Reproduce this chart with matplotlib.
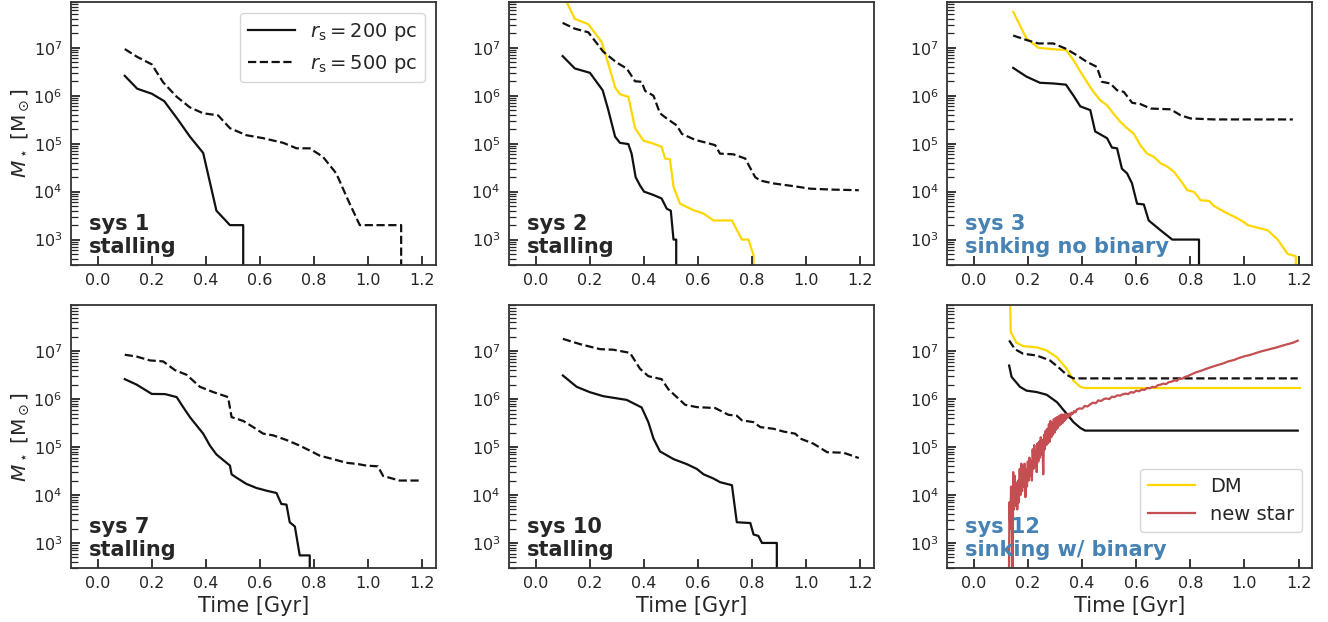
import matplotlib
matplotlib.use("Agg")
import matplotlib.pyplot as plt
from matplotlib.ticker import LogLocator, NullFormatter, MultipleLocator

plt.rcParams['font.family'] = ['DejaVu Sans']
plt.rcParams['mathtext.fontset'] = 'dejavusans'

TXT = '#262626'
GOLD = '#FFD700'
RED = '#C44E52'
BLUE = '#4682B4'

# ---------------- data ----------------
# sys 1
s1_t200 = [0.10, 0.146, 0.20, 0.246, 0.298, 0.341, 0.39, 0.439, 0.489, 0.538, 0.538]
s1_m200 = [2.6e6, 1.4e6, 1.1e6, 7.7e5, 3.1e5, 1.4e5, 6.4e4, 4e3, 2e3, 2e3, 1e1]
s1_t500 = [0.10, 0.145, 0.20, 0.242, 0.292, 0.341, 0.39, 0.445, 0.489, 0.55, 0.612,
           0.686, 0.735, 0.784, 0.833, 0.882, 0.926, 0.969, 1.122, 1.122]
s1_m500 = [9.4e6, 6.5e6, 4.5e6, 1.9e6, 9.5e5, 5.7e5, 4.3e5, 3.9e5, 2.1e5, 1.5e5, 1.3e5,
           1.04e5, 8e4, 8e4, 5.3e4, 2.4e4, 6.6e3, 2e3, 2e3, 1e1]

# sys 2
s2_t200 = [0.099, 0.144, 0.20, 0.247, 0.268, 0.293, 0.311, 0.342, 0.354, 0.369, 0.385,
           0.40, 0.435, 0.465, 0.484, 0.499, 0.509, 0.519, 0.519]
s2_m200 = [6.7e6, 3.7e6, 3e6, 1.3e6, 5e5, 1.4e5, 1.04e5, 9.8e4, 6.2e4, 2e4, 1.35e4,
           1e4, 8.5e3, 7.2e3, 4.4e3, 4e3, 1e3, 1e3, 1e1]
s2_tdm = [0.10, 0.144, 0.194, 0.243, 0.262, 0.293, 0.311, 0.342, 0.367, 0.398, 0.435,
          0.465, 0.478, 0.496, 0.509, 0.533, 0.583, 0.62, 0.657, 0.725, 0.762, 0.786,
          0.805, 0.805]
s2_mdm = [1.3e8, 4e7, 3.1e7, 1.33e7, 6e6, 1.5e6, 1.07e6, 9.5e5, 2.1e5, 1.15e5, 1e5,
          8.6e4, 4.9e4, 4.7e4, 1.26e4, 5.6e3, 4.1e3, 3.5e3, 2.5e3, 2.5e3, 1e3, 1e3,
          4.7e2, 1e1]
s2_t500 = [0.099, 0.144, 0.194, 0.249, 0.299, 0.336, 0.367, 0.391, 0.404, 0.435, 0.459,
           0.484, 0.521, 0.54, 0.589, 0.632, 0.663, 0.681, 0.73, 0.774, 0.811, 0.83,
           0.879, 0.953, 1.015, 1.10, 1.194]
s2_m500 = [3.3e7, 2.5e7, 2.1e7, 8.3e6, 4.9e6, 3.7e6, 2e6, 1.95e6, 1.26e6, 1e6, 4.3e5,
           3.35e5, 2.4e5, 1.6e5, 1.2e5, 1.04e5, 9.3e4, 6.2e4, 6e4, 4.9e4, 2e4, 1.7e4,
           1.48e4, 1.3e4, 1.15e4, 1.1e4, 1.07e4]

# sys 3
s3_t200 = [0.145, 0.194, 0.244, 0.293, 0.34, 0.368, 0.393, 0.43, 0.448, 0.492, 0.51,
           0.529, 0.547, 0.566, 0.584, 0.603, 0.628, 0.646, 0.69, 0.733, 0.832, 0.832]
s3_m200 = [3.8e6, 2.5e6, 1.86e6, 1.8e6, 1.7e6, 1e6, 6e5, 5e5, 1.8e5, 1.3e5, 8.3e4,
           8e4, 3e4, 2.4e4, 1.5e4, 5.6e3, 5.4e3, 2.5e3, 1.56e3, 1e3, 1e3, 1e1]
s3_tdm = [0.145, 0.194, 0.238, 0.293, 0.34, 0.368, 0.393, 0.417, 0.442, 0.467, 0.492,
          0.516, 0.541, 0.566, 0.591, 0.615, 0.64, 0.665, 0.69, 0.715, 0.739, 0.764,
          0.789, 0.814, 0.838, 0.869, 0.888, 0.925, 0.962, 0.999, 1.012, 1.086, 1.123,
          1.16, 1.19, 1.19]
s3_mdm = [5.6e7, 1.57e7, 1e7, 9.3e6, 9e6, 5.5e6, 3.2e6, 1.95e6, 1.2e6, 8e5, 6.3e5,
          4.2e5, 2.86e5, 2.1e5, 1.6e5, 9.3e4, 6.2e4, 5.3e4, 3.9e4, 3.3e4, 2.6e4, 1.7e4,
          1.07e4, 9.8e3, 6.6e3, 6.4e3, 5e3, 3.8e3, 3e3, 2.3e3, 2e3, 1.56e3, 1e3,
          5e2, 4.5e2, 1e1]
s3_t500 = [0.145, 0.194, 0.238, 0.293, 0.337, 0.38, 0.417, 0.454, 0.473, 0.504, 0.529,
           0.554, 0.585, 0.615, 0.653, 0.727, 0.764, 0.801, 0.888, 1.012, 1.179]
s3_m500 = [1.8e7, 1.45e7, 1.23e7, 1.23e7, 9.7e6, 7e6, 5.1e6, 4e6, 1.95e6, 1.8e6, 1.3e6,
           1.2e6, 7.1e5, 6.7e5, 5.4e5, 5.2e5, 3.9e5, 3.35e5, 3.2e5, 3.2e5, 3.2e5]

# sys 7
s7_t200 = [0.10, 0.144, 0.20, 0.249, 0.292, 0.316, 0.341, 0.366, 0.39, 0.415, 0.439,
           0.489, 0.495, 0.513, 0.55, 0.587, 0.624, 0.661, 0.679, 0.698, 0.71, 0.729,
           0.747, 0.784, 0.784]
s7_m200 = [2.6e6, 2e6, 1.28e6, 1.27e6, 1.1e6, 6.8e5, 4.2e5, 2.8e5, 1.9e5, 1.07e5, 7e4,
           4.1e4, 2.7e4, 2.3e4, 1.7e4, 1.4e4, 1.23e4, 1.1e4, 6.5e3, 6.3e3, 2.7e3, 2.2e3,
           5.5e2, 5.5e2, 1e1]
s7_t500 = [0.10, 0.144, 0.193, 0.242, 0.286, 0.329, 0.378, 0.427, 0.482, 0.495, 0.538,
           0.575, 0.612, 0.649, 0.698, 0.747, 0.796, 0.821, 0.87, 0.919, 0.963, 0.993,
           1.036, 1.055, 1.116, 1.19]
s7_m500 = [8.4e6, 7.7e6, 6.4e6, 6.1e6, 4e6, 3.2e6, 1.8e6, 1.4e6, 1.1e6, 4.2e5, 3.5e5,
           2.6e5, 1.9e5, 1.75e5, 1.4e5, 1.07e5, 7.8e4, 6.6e4, 5.6e4, 4.7e4, 4.4e4, 4.1e4,
           3.96e4, 2.5e4, 2e4, 2e4]

# sys 10
s10_t200 = [0.10, 0.151, 0.20, 0.249, 0.336, 0.391, 0.416, 0.435, 0.459, 0.509, 0.558,
            0.595, 0.62, 0.657, 0.681, 0.725, 0.743, 0.793, 0.805, 0.823, 0.836, 0.891,
            0.891]
s10_m200 = [3.1e6, 1.8e6, 1.39e6, 1.15e6, 9.6e5, 6.7e5, 3.3e5, 1.5e5, 8.1e4, 5.6e4,
            4.4e4, 3.5e4, 2.7e4, 2.2e4, 1.85e4, 1.6e4, 2.7e3, 2.6e3, 1.5e3, 1.4e3, 1e3,
            1e3, 1e1]
s10_t500 = [0.10, 0.163, 0.237, 0.286, 0.348, 0.385, 0.416, 0.465, 0.49, 0.521, 0.552,
            0.595, 0.663, 0.712, 0.743, 0.762, 0.805, 0.83, 0.879, 0.916, 0.959, 0.978,
            1.027, 1.077, 1.138, 1.194]
s10_m500 = [1.8e7, 1.4e7, 1.1e7, 1.07e7, 9.2e6, 4.3e6, 3e6, 2.6e6, 1.6e6, 1.1e6, 7.6e5,
            6.8e5, 6.5e5, 4.7e5, 4.5e5, 3.6e5, 3.3e5, 2.6e5, 2.4e5, 2.1e5, 1.9e5, 1.5e5,
            1.17e5, 7.8e4, 7.6e4, 5.9e4]

# sys 12
s12_t200 = [0.13, 0.139, 0.17, 0.194, 0.232, 0.269, 0.307, 0.343, 0.368, 0.393, 0.411,
            0.60, 0.90, 1.197]
s12_m200 = [5e6, 2.9e6, 1.8e6, 1.5e6, 1.4e6, 1.23e6, 8.6e5, 4.9e5, 3.3e5, 2.5e5, 2.2e5,
            2.2e5, 2.2e5, 2.2e5]
s12_t500 = [0.13, 0.151, 0.182, 0.232, 0.281, 0.318, 0.343, 0.368, 0.60, 0.90, 1.197]
s12_m500 = [1.67e7, 1.1e7, 8.8e6, 8.1e6, 6.4e6, 4.3e6, 3.2e6, 2.7e6, 2.7e6, 2.7e6, 2.7e6]
s12_tdm = [0.13, 0.136, 0.157, 0.182, 0.232, 0.269, 0.306, 0.343, 0.368, 0.393, 0.411,
           0.70, 1.205]
s12_mdm = [1e9, 2.5e7, 1.5e7, 1.27e7, 1.2e7, 1.03e7, 7.5e6, 4.3e6, 2.4e6, 1.8e6, 1.7e6,
           1.7e6, 1.7e6]
s12_tnew = [0.128, 0.131, 0.134, 0.137, 0.140, 0.142, 0.145, 0.148, 0.151, 0.154, 0.157,
            0.160, 0.163, 0.166, 0.169, 0.172, 0.175, 0.178, 0.181, 0.184, 0.187, 0.190,
            0.193, 0.196, 0.199, 0.202, 0.205, 0.208, 0.211, 0.214, 0.217, 0.220, 0.223,
            0.226, 0.229, 0.232, 0.235, 0.238, 0.241, 0.244, 0.247, 0.250, 0.253, 0.256,
            0.259, 0.262, 0.265, 0.268, 0.271, 0.274, 0.277, 0.280, 0.283, 0.286, 0.289,
            0.292, 0.295, 0.298, 0.301, 0.304, 0.307, 0.310, 0.313, 0.316, 0.319, 0.322,
            0.325, 0.328, 0.331, 0.334, 0.337, 0.340, 0.344, 0.348, 0.352, 0.356, 0.360,
            0.365, 0.370, 0.375, 0.380, 0.390, 0.400, 0.410, 0.420, 0.430, 0.440, 0.450,
            0.460, 0.470, 0.480, 0.490, 0.500, 0.510, 0.520, 0.530, 0.540, 0.550, 0.560,
            0.570, 0.580, 0.590, 0.600, 0.610, 0.620, 0.630, 0.640, 0.650, 0.660, 0.670,
            0.680, 0.690, 0.700, 0.710, 0.720, 0.730, 0.740, 0.750, 0.760, 0.770, 0.780,
            0.790, 0.800, 0.820, 0.840, 0.860, 0.880, 0.900, 0.920, 0.940, 0.960, 0.980,
            1.000, 1.020, 1.040, 1.060, 1.080, 1.100, 1.120, 1.140, 1.160, 1.180, 1.197]
s12_mnew = [1e1, 7e3, 2e3, 1.5e4, 3e3, 1e1, 3e4, 5e3, 2.5e4, 6e3, 1.8e4,
            5e3, 2e4, 7e3, 3.5e4, 1e4, 4.5e4, 1.2e4, 4e4, 1.5e4, 4.5e4, 9e3,
            3.5e4, 1.5e4, 5e4, 2e4, 6e4, 2.5e4, 5e4, 2e4, 9e4, 3.5e4, 1.1e5,
            4e4, 8e4, 3e4, 1.2e5, 5e4, 1.3e5, 6e4, 1.6e5, 7e4, 1.4e5, 2.7e4,
            1.8e5, 9e4, 2.2e5, 1.1e5, 2.4e5, 1.2e5, 3e5, 1.3e5, 3.5e5, 1.6e5, 3.2e5,
            1.8e5, 3.8e5, 2e5, 4e5, 2.3e5, 4.2e5, 2.5e5, 4.4e5, 2.8e5, 4.6e5, 3e5,
            4.8e5, 3.2e5, 4.7e5, 3.5e5, 4.9e5, 3.8e5, 4.8e5, 4.1e5, 5e5, 4.4e5, 5.2e5,
            4.9e5, 5.6e5, 5.3e5, 6e5, 6.4e5, 6.3e5, 7.2e5, 7e5, 7.8e5, 8.4e5, 8.2e5,
            9.4e5, 9.1e5, 1.0e6, 1.03e6, 1.0e6, 1.12e6, 1.1e6, 1.2e6, 1.18e6, 1.26e6, 1.3e6,
            1.27e6, 1.4e6, 1.36e6, 1.5e6, 1.45e6, 1.58e6, 1.55e6, 1.7e6, 1.68e6, 1.8e6, 1.76e6,
            1.95e6, 2.0e6, 2.1e6, 2.05e6, 2.25e6, 2.3e6, 2.45e6, 2.4e6, 2.7e6, 2.65e6, 2.9e6,
            3.0e6, 3.2e6, 3.6e6, 3.9e6, 4.3e6, 4.7e6, 5.1e6, 5.5e6, 6.1e6, 6.5e6, 7.2e6,
            7.8e6, 8.3e6, 9.0e6, 9.8e6, 1.05e7, 1.12e7, 1.2e7, 1.3e7, 1.4e7, 1.5e7, 1.65e7]

labels = ['sys 1\nstalling', 'sys 2\nstalling', 'sys 3\nsinking no binary',
          'sys 7\nstalling', 'sys 10\nstalling', 'sys 12\nsinking w/ binary']
label_colors = [TXT, TXT, BLUE, TXT, TXT, BLUE]
legend_200 = r'$r_{\rm s} = 200$ pc'
legend_500 = r'$r_{\rm s} = 500$ pc'

panels = [
    dict(t200=s1_t200, m200=s1_m200, t500=s1_t500, m500=s1_m500),
    dict(t200=s2_t200, m200=s2_m200, t500=s2_t500, m500=s2_m500, tdm=s2_tdm, mdm=s2_mdm),
    dict(t200=s3_t200, m200=s3_m200, t500=s3_t500, m500=s3_m500, tdm=s3_tdm, mdm=s3_mdm),
    dict(t200=s7_t200, m200=s7_m200, t500=s7_t500, m500=s7_m500),
    dict(t200=s10_t200, m200=s10_m200, t500=s10_t500, m500=s10_m500),
    dict(t200=s12_t200, m200=s12_m200, t500=s12_t500, m500=s12_m500, tdm=s12_tdm,
         mdm=s12_mdm, tnew=s12_tnew, mnew=s12_mnew),
]

# ---------------- figure ----------------
fig, axes = plt.subplots(2, 3, figsize=(13.28, 6.22), dpi=100)
fig.subplots_adjust(left=0.0532, right=0.988, bottom=0.0868, top=0.9968,
                    wspace=0.2, hspace=0.155)

LW = 1.6
for i, (ax, p) in enumerate(zip(axes.flat, panels)):
    l200, = ax.plot(p['t200'], p['m200'], color='#111111', lw=LW, ls='-', label=legend_200)
    l500, = ax.plot(p['t500'], p['m500'], color='#111111', lw=LW, ls='--', label=legend_500)
    if 'tnew' in p:
        lnew, = ax.plot(p['tnew'], p['mnew'], color=RED, lw=LW, label='new star', zorder=2)
    if 'tdm' in p:
        ldm, = ax.plot(p['tdm'], p['mdm'], color=GOLD, lw=LW, label='DM', zorder=1.5)
    ax.set_yscale('log')
    ax.set_xlim(-0.1, 1.25)
    ax.set_ylim(3e2, 9e7)
    ax.xaxis.set_major_locator(MultipleLocator(0.2))
    ax.yaxis.set_major_locator(LogLocator(base=10, numticks=12))
    ax.yaxis.set_minor_locator(LogLocator(base=10, subs=tuple(range(2, 10)), numticks=12))
    ax.yaxis.set_minor_formatter(NullFormatter())
    ax.tick_params(axis='both', which='major', direction='in', length=6.5, width=1.3,
                   color=TXT, labelcolor=TXT, labelsize=11.5, top=False, right=False, pad=6)
    ax.tick_params(axis='y', which='minor', direction='in', length=4.8, width=0.9,
                   color=TXT, right=False)
    ax.tick_params(axis='x', which='minor', bottom=False, top=False)
    for sp in ax.spines.values():
        sp.set_color('#333333')
        sp.set_linewidth(1.3)
    ax.text(0.05, 0.03, labels[i], transform=ax.transAxes, ha='left', va='bottom',
            fontsize=15, fontweight='bold', color=label_colors[i], linespacing=1.2)
    if i % 3 == 0:
        ax.set_ylabel(r'$M_\star$ [M$_\odot$]', fontsize=14.5, color=TXT, labelpad=2)
    if i >= 3:
        ax.set_xlabel('Time [Gyr]', fontsize=15, color=TXT, labelpad=3)
    if i == 0:
        leg = ax.legend(handles=[l200, l500], loc='upper right', bbox_to_anchor=(0.97, 0.958),
                        borderaxespad=0, fontsize=14, frameon=True, handlelength=2.4,
                        labelcolor=TXT)
        leg.get_frame().set_edgecolor('#cccccc')
    if i == 5:
        leg = ax.legend(handles=[ldm, lnew], loc='lower right', bbox_to_anchor=(0.973, 0.137),
                        borderaxespad=0, fontsize=14, frameon=True, handlelength=2.4,
                        labelcolor=TXT)
        leg.get_frame().set_edgecolor('#cccccc')

fig.savefig('out.png', dpi=100)
